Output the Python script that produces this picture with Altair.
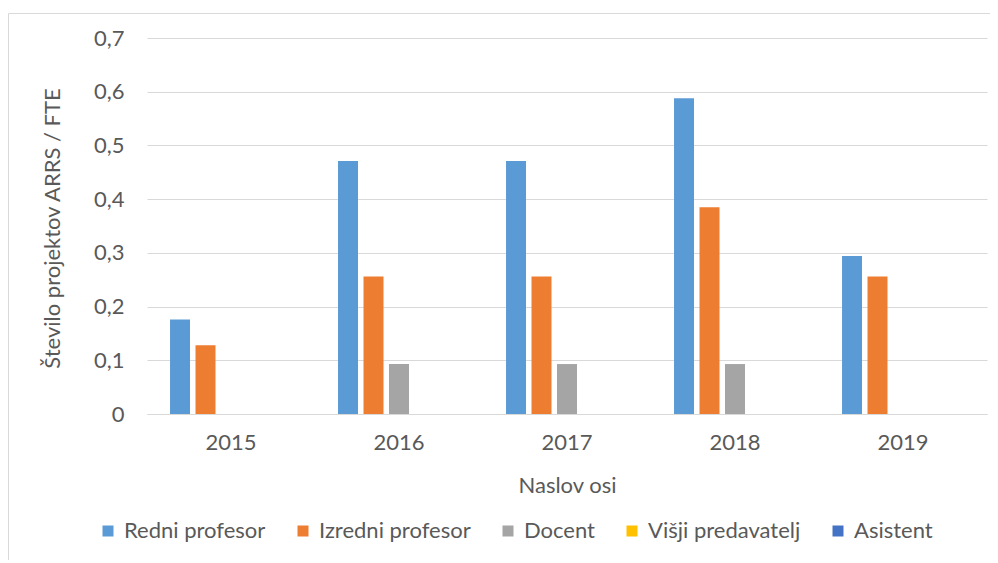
import altair as alt
import pandas as pd

years = ["2015", "2016", "2017", "2018", "2019"]
series = ["Redni profesor", "Izredni profesor", "Docent", "Višji predavatelj", "Asistent"]
redni = [0.176, 0.471, 0.471, 0.588, 0.294]
izredni = [0.128, 0.256, 0.256, 0.385, 0.256]
docent = [0.0, 0.093, 0.093, 0.093, 0.0]
visji = [0.0, 0.0, 0.0, 0.0, 0.0]
asistent = [0.0, 0.0, 0.0, 0.0, 0.0]
colors = ["#5B9BD5", "#ED7D31", "#A5A5A5", "#FFC000", "#4472C4"]
y_ticks = [0, 0.1, 0.2, 0.3, 0.4, 0.5, 0.6, 0.7]

rows = []
for s, vals in zip(series, [redni, izredni, docent, visji, asistent]):
    for yr, v in zip(years, vals):
        rows.append({"leto": yr, "serija": s, "vrednost": v})
df = pd.DataFrame(rows)

FONT = "Lato"
FS = 22
TXT = "#595959"
GRID = "#D9D9D9"

bars = alt.Chart(df).mark_bar().encode(
    x=alt.X(
        "leto:N",
        sort=years,
        scale=alt.Scale(paddingInner=0.274, paddingOuter=0.137),
        axis=alt.Axis(
            title="Naslov osi",
            labelAngle=0,
            ticks=False,
            domainColor=GRID,
            domainWidth=1,
            labelPadding=18,
            labelFont=FONT,
            labelFontSize=FS,
            labelColor=TXT,
            titleFont=FONT,
            titleFontSize=FS,
            titleFontWeight="normal",
            titleColor=TXT,
            titleY=71,
            titleBaseline="middle",
        ),
    ),
    xOffset=alt.XOffset(
        "serija:N",
        sort=series,
        scale=alt.Scale(paddingInner=0.216, paddingOuter=0),
    ),
    y=alt.Y(
        "vrednost:Q",
        scale=alt.Scale(domain=[0, 0.7], nice=False),
        axis=alt.Axis(
            title="Število projektov ARRS / FTE",
            values=y_ticks,
            labelExpr="datum.value == 0 ? '0' : replace(format(datum.value, '.1f'), '.', ',')",
            ticks=False,
            domain=False,
            grid=True,
            gridColor=GRID,
            gridWidth=1,
            labelPadding=23,
            labelFont=FONT,
            labelFontSize=FS,
            labelColor=TXT,
            titleFont=FONT,
            titleFontSize=FS,
            titleFontWeight="normal",
            titleColor=TXT,
            titleAngle=-90,
            titleX=-95,
            titleY=190,
            titleAlign="center",
            titleBaseline="middle",
        ),
    ),
    color=alt.Color(
        "serija:N",
        sort=series,
        scale=alt.Scale(domain=series, range=colors),
        legend=alt.Legend(
            title=None,
            orient="none",
            direction="horizontal",
            legendX=-50,
            legendY=482,
            symbolType="square",
            symbolSize=121,
            symbolStrokeWidth=0,
            labelOffset=5,
            columnPadding=26,
            labelFont=FONT,
            labelFontSize=FS,
            labelColor=TXT,
            padding=0,
        ),
    ),
)

border_top = alt.Chart(pd.DataFrame({"a": [0]})).mark_rule(color=GRID, strokeWidth=1).encode(
    x=alt.value(-138.5), x2=alt.value(845), y=alt.value(-24.5)
)
border_left = alt.Chart(pd.DataFrame({"a": [0]})).mark_rule(color=GRID, strokeWidth=1).encode(
    x=alt.value(-138.5), y=alt.value(-24.5), y2=alt.value(530)
)

chart = alt.layer(bars, border_top, border_left).properties(
    width=840,
    height=376,
    autosize=alt.AutoSizeParams(type="none"),
    padding={"left": 139, "top": 30, "right": 3, "bottom": 146},
    background="white",
).configure_view(stroke=None)

chart.save("out.html", embed_options={"renderer": "svg", "actions": False})
